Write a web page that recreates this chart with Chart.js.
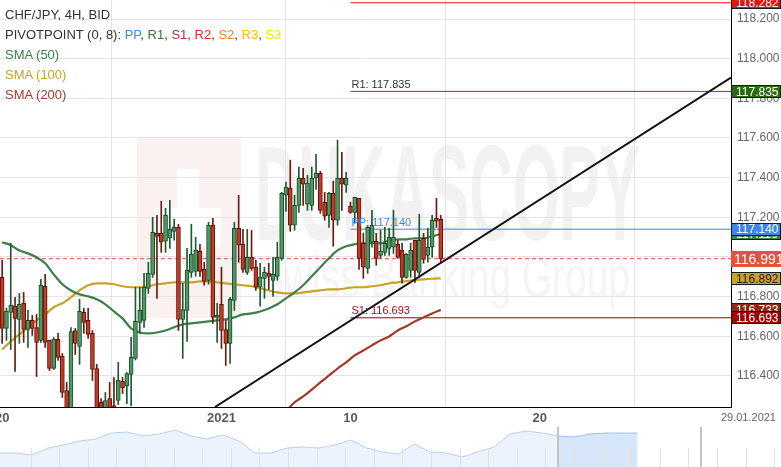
<!DOCTYPE html>
<html>
<head>
<meta charset="utf-8">
<script src="https://cdn.jsdelivr.net/npm/chart.js@4.4.1/dist/chart.umd.min.js"></script>
<style>
html, body { margin: 0; padding: 0; background: #fff; }
#wrap { position: relative; width: 781px; height: 467px; overflow: hidden; font-family: "Liberation Sans", Arial, sans-serif; }
#main { position: absolute; left: 0; top: 0; }
#nav { position: absolute; left: 0; top: 420px; }
.lg { position: absolute; left: 5px; font-size: 13px; line-height: 16px; color: #333; white-space: nowrap; }
#date { position: absolute; right: 5px; top: 410px; font-size: 11px; line-height: 14px; color: #666; }
</style>
</head>
<body>
<div id="wrap">
  <canvas id="nav" width="781" height="47"></canvas>
  <canvas id="main" width="781" height="467"></canvas>
  <div class="lg" style="top:7px">CHF/JPY, 4H, BID</div>
  <div class="lg" style="top:27px">PIVOTPOINT (0, 8): <span style="color:#3d8ef0">PP</span>, <span style="color:#3a7a2a">R1</span>, <span style="color:#b83030">S1</span>, <span style="color:#f02828">R2</span>, <span style="color:#f5821f">S2</span>, <span style="color:#f0c000">R3</span>, <span style="color:#f5e400">S3</span></div>
  <div class="lg" style="top:47px;color:#3d7d4a">SMA (50)</div>
  <div class="lg" style="top:67px;color:#c9a22a">SMA (100)</div>
  <div class="lg" style="top:87px;color:#a23a30">SMA (200)</div>
  <div id="date">29.01.2021</div>
</div>
<script>
// 4H candles, CHF/JPY
const opens = [116.897,116.639,116.720,116.751,116.685,116.766,116.634,116.680,116.644,116.579,
  116.852,116.579,116.437,116.584,116.498,116.326,116.215,116.629,116.549,116.720,
  116.680,116.614,116.437,116.266,116.215,116.286,116.250,116.276,116.372,116.351,
  116.407,116.488,116.670,116.680,116.841,116.912,117.119,117.119,117.079,117.094,
  117.129,117.149,116.685,116.730,116.922,116.927,117.028,116.937,116.882,117.160,
  116.695,116.761,116.634,116.564,116.781,117.144,117.064,116.922,116.998,116.948,
  116.847,116.892,116.917,116.882,116.902,116.993,117.311,117.347,117.160,117.260,
  117.397,117.266,117.260,117.397,117.422,117.276,117.210,117.321,117.185,117.397,
  117.362,117.255,117.225,117.296,117.069,116.942,117.074,117.079,117.008,117.023,
  117.043,117.049,117.064,117.033,116.897,116.932,117.084,116.922,117.094,117.008,
  117.049,117.195,117.190];
const highs = [116.983,116.741,117.069,116.796,116.816,116.821,116.730,116.705,116.710,116.887,
  116.912,116.579,116.594,116.614,116.513,116.367,116.644,116.639,116.786,116.741,
  116.741,116.629,116.458,116.286,116.316,116.367,116.392,116.468,116.392,116.417,
  116.594,116.847,116.847,116.917,116.973,117.200,117.210,117.281,117.245,117.286,
  117.190,117.165,116.867,117.043,117.165,117.099,117.064,116.973,117.175,117.195,
  116.766,116.948,116.680,116.796,117.175,117.311,117.139,117.139,117.134,116.983,
  116.968,116.948,116.968,116.998,117.074,117.326,117.377,117.488,117.311,117.453,
  117.447,117.412,117.453,117.518,117.432,117.326,117.326,117.382,117.589,117.528,
  117.427,117.276,117.301,117.296,117.119,117.160,117.235,117.119,117.134,117.149,
  117.144,117.235,117.084,117.069,117.018,117.069,117.084,117.215,117.119,117.144,
  117.210,117.296,117.210];
const lows = [116.564,116.579,116.533,116.422,116.564,116.569,116.543,116.604,116.397,116.569,
  116.543,116.427,116.432,116.478,116.291,116.165,116.175,116.508,116.458,116.614,
  116.589,116.377,116.185,116.195,116.195,116.185,116.205,116.255,116.311,116.260,
  116.250,116.480,116.614,116.644,116.816,116.897,116.791,117.023,117.023,117.043,
  117.084,116.629,116.488,116.574,116.897,116.902,116.902,116.857,116.862,116.665,
  116.569,116.538,116.453,116.463,116.730,116.973,116.922,116.912,116.932,116.831,
  116.751,116.791,116.836,116.801,116.882,116.983,117.230,117.129,117.134,117.225,
  117.260,117.235,117.235,117.341,117.220,117.185,117.149,117.054,117.160,117.235,
  117.326,117.220,117.170,116.937,116.892,116.917,117.049,116.958,116.993,117.008,
  117.008,117.018,116.993,116.867,116.892,116.897,116.872,116.897,116.968,116.973,
  116.998,117.149,116.973];
const closes = [116.639,116.725,116.756,116.690,116.761,116.634,116.680,116.639,116.569,116.857,
  116.569,116.437,116.584,116.493,116.316,116.215,116.624,116.564,116.725,116.670,
  116.609,116.432,116.215,116.225,116.276,116.215,116.225,116.377,116.341,116.412,
  116.493,116.675,116.730,116.847,116.917,117.124,117.104,117.074,117.210,117.139,
  117.149,116.685,116.735,116.932,117.013,117.033,116.927,116.877,117.160,116.695,
  116.705,116.629,116.564,116.786,117.144,117.059,116.937,116.998,116.942,116.847,
  116.897,116.922,116.902,116.912,116.998,117.321,117.352,117.160,117.260,117.397,
  117.367,117.372,117.397,117.422,117.235,117.205,117.321,117.185,117.397,117.367,
  117.397,117.225,117.301,116.993,116.948,117.149,117.160,116.993,117.028,117.069,
  117.099,117.099,116.998,116.897,117.013,117.033,116.932,117.084,116.988,117.049,
  117.185,117.180,116.991];

// moving averages, one value every SMA_STEP candles
const SMA_STEP = 2;
const sma50 = [117.074,117.059,117.033,117.018,116.998,116.968,116.912,116.862,116.831,116.811,
  116.801,116.786,116.761,116.725,116.690,116.639,116.619,116.614,116.619,116.629,
  116.645,116.660,116.665,116.670,116.675,116.680,116.685,116.695,116.710,116.715,
  116.725,116.740,116.761,116.791,116.821,116.857,116.902,116.948,116.993,117.033,
  117.054,117.064,117.069,117.069,117.069,117.084,117.089,117.089,117.094,117.094,
  117.104,117.116];
const sma100 = [116.533,116.574,116.609,116.645,116.680,116.710,116.746,116.766,116.796,116.831,
  116.857,116.867,116.867,116.862,116.852,116.847,116.847,116.852,116.862,116.867,
  116.872,116.872,116.872,116.877,116.877,116.872,116.867,116.862,116.857,116.852,
  116.842,116.831,116.821,116.816,116.816,116.821,116.826,116.831,116.836,116.836,
  116.842,116.847,116.847,116.852,116.857,116.867,116.872,116.878,116.883,116.887,
  116.890,116.892];
const SMA200_START = 64;
const sma200 = [116.195,116.225,116.266,116.296,116.331,116.367,116.402,116.437,116.468,116.503,
  116.528,116.554,116.579,116.599,116.629,116.650,116.675,116.695,116.715,116.733];

// weekly pivot levels
const PIVOT_START = 81;
const pivotNames = ['R2', 'R1', 'PP', 'S1'];
const pivotValues = [118.282, 117.835, 117.140, 116.693];
const pivotColors = ['#f01414', '#2d6a12', '#3b86f0', '#a00000'];
const pivotTextColors = ['#e01010', '#333333', '#3b86f0', '#a01010'];

// trend line anchors (candle index, price)
const trendX = [49.5, 169.5];
const trendY = [116.243, 117.905];

// x axis
const X_MIN = -0.5, X_MAX = 169.5;
const xTickIdx = [0, 51, 81, 125];
const xTickText = ['20', '2021', '10', '20'];
const Y_MIN = 116.243, Y_MAX = 118.296;

// price tags on the right axis
const tagValues = [118.282, 117.835, 117.116, 117.140, 116.991, 116.892, 116.733, 116.693];
const tagBg = ['#e8140f', '#2b6a0f', '#3f7f49', '#3b86f0', '#e2533f', '#c9a227', '#8e2a18', '#a50000'];
const tagText = ['#fff', '#fff', '#fff', '#fff', '#fff', '#222', '#fff', '#fff'];

// navigator
const navVals = [14,14,12,19,22,26,28,34,35,31,33,37,31,28,32,26,14,14,19,20,
  19,22,27,19,15,13,23,15,14,10,15,20,33,36,34,31,30,33,34,34,34];
const NAV_MAX_X = 49, WIN_START = 35, WIN_HANDLE = 44;

const lastClose = closes[closes.length - 1];
const isUp = i => closes[i] >= opens[i];

const FONT = '"Liberation Sans", Arial, sans-serif';

// watermark, pivot labels, price tags
const overlay = {
  id: 'overlay',
  beforeDraw(chart) {
    const c = chart.ctx;
    c.save();
    c.fillStyle = '#fcf1f1';
    c.fillRect(137, 137, 104, 181);
    c.fillStyle = '#ffffff';
    c.fillRect(177, 169, 22, 40);
    c.fillRect(155, 208, 66, 39);
    c.fillRect(155, 247, 44, 38);
    c.fillStyle = '#f2f2f2';
    c.font = 'bold 136px ' + FONT;
    c.textBaseline = 'alphabetic';
    c.fillText('DUKASCOPY', 255, 240, 385);
    c.fillStyle = '#f5f5f5';
    c.font = '60px ' + FONT;
    c.fillText('Swiss Banking Group', 258, 297, 372);
    c.restore();
  },
  afterDraw(chart) {
    const c = chart.ctx, xs = chart.scales.x, ys = chart.scales.y;
    const area = chart.chartArea;
    c.save();
    c.font = '11px ' + FONT;
    c.textAlign = 'left';
    c.textBaseline = 'bottom';
    pivotNames.forEach((n, k) => {
      c.fillStyle = pivotTextColors[k];
      c.fillText(n + ': ' + pivotValues[k].toFixed(3), xs.getPixelForValue(PIVOT_START) + 1, ys.getPixelForValue(pivotValues[k]) - 1);
    });
    tagValues.forEach((v, k) => {
      const y = ys.getPixelForValue(v);
      const big = v === lastClose;
      const h = big ? 16 : 13;
      c.fillStyle = tagBg[k];
      c.fillRect(area.right, Math.round(y - h / 2), 50, h);
      if (!big) {
        c.strokeStyle = '#1a1a1a';
        c.lineWidth = 1;
        c.strokeRect(area.right + 0.5, Math.round(y - h / 2) + 0.5, 49, h - 1);
      }
      c.fillStyle = tagText[k];
      c.font = (big ? '14px ' : '12px ') + FONT;
      c.textBaseline = 'middle';
      c.fillText(v.toFixed(3), area.right + (big ? 3 : 5), y + 1);
    });
    c.restore();
  }
};

const hLine = v => [{ x: PIVOT_START, y: v }, { x: X_MAX, y: v }];

const datasets = [
  {
    type: 'bar', label: 'bodies', order: 1,
    data: opens.map((o, i) => ({ x: i, y: [Math.min(o, closes[i]), Math.max(o, closes[i])] })),
    backgroundColor: c => isUp(c.dataIndex) ? '#4e9865' : '#c23b27',
    borderColor: c => isUp(c.dataIndex) ? '#1b4d2a' : '#5c140c',
    borderWidth: 1, borderSkipped: false, barThickness: 4, minBarLength: 2, grouped: false
  },
  {
    type: 'bar', label: 'wicks', order: 2,
    data: highs.map((h, i) => ({ x: i, y: [lows[i], h] })),
    backgroundColor: c => isUp(c.dataIndex) ? '#1d5a2f' : '#6d1a0f',
    barThickness: 1, grouped: false
  },
  {
    type: 'line', label: 'SMA 50', order: 4,
    data: sma50.map((v, k) => ({ x: k * SMA_STEP, y: v })),
    borderColor: '#3f7d49', borderWidth: 2.2, pointRadius: 0, cubicInterpolationMode: 'monotone'
  },
  {
    type: 'line', label: 'SMA 100', order: 4,
    data: sma100.map((v, k) => ({ x: k * SMA_STEP, y: v })),
    borderColor: '#c9a22a', borderWidth: 2.2, pointRadius: 0, cubicInterpolationMode: 'monotone'
  },
  {
    type: 'line', label: 'SMA 200', order: 4,
    data: sma200.map((v, k) => ({ x: SMA200_START + k * SMA_STEP, y: v })),
    borderColor: '#a3392a', borderWidth: 2.2, pointRadius: 0, cubicInterpolationMode: 'monotone'
  },
  ...pivotValues.map((v, k) => ({
    type: 'line', label: pivotNames[k], order: 5,
    data: hLine(v), borderColor: pivotColors[k], borderWidth: 1, pointRadius: 0
  })),
  {
    type: 'line', label: 'last', order: 5,
    data: [{ x: X_MIN, y: lastClose }, { x: X_MAX, y: lastClose }],
    borderColor: '#e8463a', borderWidth: 1, borderDash: [4, 3], pointRadius: 0
  },
  {
    type: 'line', label: 'trend', order: 0,
    data: trendX.map((x, k) => ({ x: x, y: trendY[k] })),
    borderColor: '#111', borderWidth: 2, pointRadius: 0
  }
];

new Chart(document.getElementById('main'), {
  type: 'bar',
  data: { datasets: datasets },
  plugins: [overlay],
  options: {
    responsive: false,
    animation: false,
    layout: { padding: 0 },
    plugins: { legend: { display: false }, tooltip: { enabled: false } },
    scales: {
      x: {
        type: 'linear', min: X_MIN, max: X_MAX, offset: false,
        grid: { color: '#e4e4e4', drawTicks: false },
        border: { color: '#000', width: 1 },
        afterBuildTicks: s => { s.ticks = xTickIdx.map(v => ({ value: v })); },
        ticks: {
          autoSkip: false, maxRotation: 0, padding: 4, color: '#5a5a5a',
          font: { size: 13, weight: 'bold', family: FONT },
          callback: v => xTickText[xTickIdx.indexOf(v)]
        },
        afterFit: s => { s.height = 60; s.paddingLeft = 0; s.paddingRight = 0; }
      },
      y: {
        position: 'right', min: Y_MIN, max: Y_MAX,
        grid: { color: '#e4e4e4', drawTicks: false },
        border: { color: '#000', width: 1 },
        ticks: {
          stepSize: 0.2, includeBounds: false, padding: 6, color: '#666',
          font: { size: 12, family: FONT },
          callback: v => v.toFixed(3)
        },
        afterFit: s => { s.width = 50; s.paddingTop = 0; s.paddingBottom = 0; }
      }
    }
  }
});

// navigator strip under the chart
const navDeco = {
  id: 'navDeco',
  afterDraw(chart) {
    const c = chart.ctx, xs = chart.scales.x;
    c.save();
    c.strokeStyle = '#e2e2e2';
    c.lineWidth = 1;
    for (let px = 30.5; px < 781; px += 28.6) {
      c.beginPath(); c.moveTo(Math.round(px) + 0.5, 28); c.lineTo(Math.round(px) + 0.5, 47); c.stroke();
    }
    c.strokeStyle = '#c4c4c4';
    c.lineWidth = 2;
    [WIN_START, WIN_HANDLE].forEach(v => {
      const px = Math.round(xs.getPixelForValue(v));
      c.beginPath(); c.moveTo(px, 7); c.lineTo(px, 47); c.stroke();
    });
    c.restore();
  }
};

new Chart(document.getElementById('nav'), {
  type: 'line',
  data: {
    datasets: [{
      data: navVals.map((v, i) => ({ x: i, y: v })),
      borderColor: '#b9d0f2', borderWidth: 1, pointRadius: 0,
      fill: 'start', backgroundColor: '#edf3fd',
      segment: {
        backgroundColor: c => c.p0DataIndex >= WIN_START ? '#d8e6fa' : undefined,
        borderColor: c => c.p0DataIndex >= WIN_START ? '#9fbff0' : undefined
      }
    }]
  },
  plugins: [navDeco],
  options: {
    responsive: false,
    animation: false,
    layout: { padding: 0 },
    plugins: { legend: { display: false }, tooltip: { enabled: false } },
    scales: {
      x: { type: 'linear', display: false, min: 0, max: NAV_MAX_X },
      y: { display: false, min: 0, max: 47 }
    }
  }
});
</script>
</body>
</html>
